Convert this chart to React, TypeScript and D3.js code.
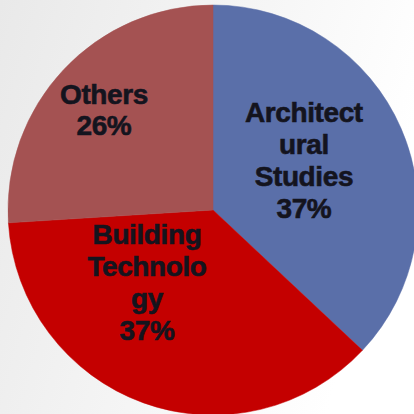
import React from "react";
import * as d3 from "d3";

const categories = ["Architectural Studies", "Building Technology", "Others"];
const values = [37, 37, 26];
const labelLines = [["Architect", "ural", "Studies"], ["Building", "Technolo", "gy"], ["Others"]];
const percentLabels = ["37%", "37%", "26%"];
const colors = ["#5a6fa9", "#c40000", "#a45252"];
// label placement tweaks (polar, relative to slice mid-angle)
const labelAngleShift = [-5.4, 22.8, -0.5];
const labelRadiusFrac = [0.506, 0.476, 0.724];

export default function App() {
  const W = 414, H = 414;
  const cx = 213, cy = 210, R = 205;
  const pie = d3.pie<number>().value((d) => d).sort(null);
  const arcs = pie(values);
  const arc = d3.arc<d3.PieArcDatum<number>>().innerRadius(0).outerRadius(R);
  const fs = 28, lh = 31.8;
  return (
    <svg width={W} height={H} style={{ position: "fixed", left: 0, top: 0 }}>
      <defs>
        <linearGradient id="bg" x1="0" y1="0" x2="1" y2="0.3">
          <stop offset="0" stopColor="#e9e9e9" />
          <stop offset="0.6" stopColor="#f6f6f6" />
          <stop offset="1" stopColor="#ffffff" />
        </linearGradient>
      </defs>
      <rect width={W} height={H} fill="url(#bg)" />
      <g transform={`translate(${cx},${cy})`}>
        {arcs.map((a, i) => (
          <path key={categories[i]} d={arc(a) || ""} fill={colors[i]} stroke={colors[i]} strokeWidth={0.5} />
        ))}
        {arcs.map((a, i) => {
          const mid = (a.startAngle + a.endAngle) / 2 + (labelAngleShift[i] * Math.PI) / 180;
          const r = R * labelRadiusFrac[i];
          const x = r * Math.sin(mid);
          const y = -r * Math.cos(mid);
          const lines = [...labelLines[i], percentLabels[i]];
          const first = y - ((lines.length - 1) * lh) / 2 + fs * 0.36;
          return (
            <text
              key={"t" + i}
              textAnchor="middle"
              fontFamily="'Liberation Sans', Arial, sans-serif"
              fontWeight="bold"
              fontSize={fs}
              letterSpacing={-0.4}
              fill="#14141e"
              stroke="#14141e"
              strokeWidth={0.6}
            >
              {lines.map((l, j) => (
                <tspan key={j} x={x} y={first + j * lh}>
                  {l}
                </tspan>
              ))}
            </text>
          );
        })}
      </g>
    </svg>
  );
}
